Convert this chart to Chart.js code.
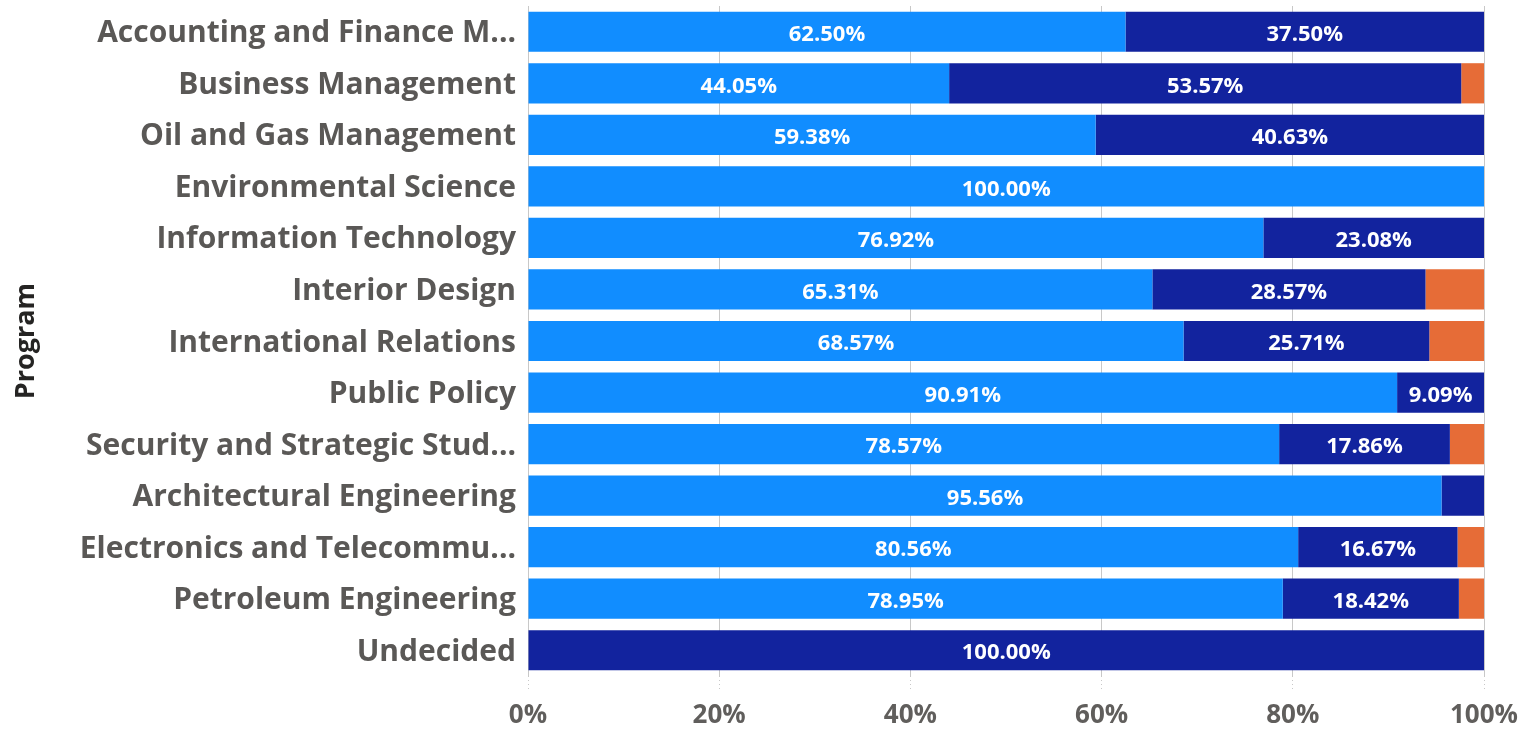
<!DOCTYPE html>
<html>
<head>
<meta charset="utf-8">
<script src="https://cdn.jsdelivr.net/npm/chart.js@4"></script>
<style>
html,body{margin:0;padding:0;background:#fff;}
#wrap{width:1526px;height:729px;position:relative;}
</style>
</head>
<body>
<div id="wrap"><canvas id="c" width="1526" height="729"></canvas></div>
<script>
const categories = [
  "Accounting and Finance M...",
  "Business Management",
  "Oil and Gas Management",
  "Environmental Science",
  "Information Technology",
  "Interior Design",
  "International Relations",
  "Public Policy",
  "Security and Strategic Stud...",
  "Architectural Engineering",
  "Electronics and Telecommu...",
  "Petroleum Engineering",
  "Undecided"
];
const seriesA = [62.50, 44.05, 59.38, 100.00, 76.92, 65.31, 68.57, 90.91, 78.57, 95.56, 80.56, 78.95, 0];
const seriesB = [37.50, 53.57, 40.63, 0, 23.08, 28.57, 25.71, 9.09, 17.86, 4.44, 16.67, 18.42, 100.00];
const seriesC = [0, 2.38, 0, 0, 0, 6.12, 5.72, 0, 3.57, 0, 2.78, 2.63, 0];
const xTicks = [0, 20, 40, 60, 80, 100];

const FONT = "'Open Sans', 'DejaVu Sans', sans-serif";

const labelPlugin = {
  id: 'segLabels',
  afterDatasetsDraw(chart) {
    const ctx = chart.ctx;
    ctx.save();
    ctx.font = "bold 22px " + FONT;
    ctx.fillStyle = '#ffffff';
    ctx.textAlign = 'center';
    ctx.textBaseline = 'middle';
    chart.data.datasets.forEach((ds, di) => {
      const meta = chart.getDatasetMeta(di);
      meta.data.forEach((bar, i) => {
        const v = ds.data[i];
        if (!v) return;
        const txt = v.toFixed(2) + '%';
        const w = Math.abs(bar.x - bar.base);
        const tw = ctx.measureText(txt).width;
        if (tw + 8 > w) return;
        ctx.fillText(txt, (bar.x + bar.base) / 2, bar.y + 3);
      });
    });
    ctx.restore();
  }
};

const bp = 0.78;
new Chart(document.getElementById('c'), {
  type: 'bar',
  data: {
    labels: categories,
    datasets: [
      { label: 'A', data: seriesA, backgroundColor: '#118DFF', barPercentage: bp, categoryPercentage: 1 },
      { label: 'B', data: seriesB, backgroundColor: '#12239E', barPercentage: bp, categoryPercentage: 1 },
      { label: 'C', data: seriesC, backgroundColor: '#E66C37', barPercentage: bp, categoryPercentage: 1 }
    ]
  },
  plugins: [labelPlugin],
  options: {
    indexAxis: 'y',
    responsive: false,
    animation: false,
    layout: { padding: { top: 6, right: 42, left: 0, bottom: 0 } },
    plugins: { legend: { display: false }, tooltip: { enabled: false } },
    scales: {
      x: {
        stacked: true,
        min: 0, max: 100,
        afterBuildTicks(scale) { scale.ticks = xTicks.map(v => ({ value: v })); },
        afterFit(scale) { scale.height = 53; scale.paddingLeft = 0; scale.paddingRight = 0; },
        border: { display: false },
        grid: {
          color: '#C8C8C8',
          borderDash: [1, 3],
          lineWidth: 1,
          drawTicks: true,
          tickLength: 14,
          tickColor: '#C8C8C8',
          tickBorderDash: [1, 3]
        },
        ticks: {
          padding: 10,
          color: '#605E5C',
          font: { family: FONT, size: 26, weight: 'bold' },
          maxRotation: 0,
          callback: v => v + '%'
        }
      },
      y: {
        stacked: true,
        afterFit(scale) { scale.width = 528; scale.paddingTop = 0; scale.paddingBottom = 0; },
        border: { display: false },
        grid: { display: false, drawTicks: false },
        ticks: {
          padding: 12,
          labelOffset: 2,
          color: '#5A5856',
          font: { family: FONT, size: 30, weight: 'bold' },
          autoSkip: false
        },
        title: {
          display: true,
          text: 'Program',
          color: '#252423',
          font: { family: FONT, size: 27, weight: 'bold' },
          padding: { top: 10, bottom: 0 }
        }
      }
    }
  }
});
</script>
</body>
</html>
